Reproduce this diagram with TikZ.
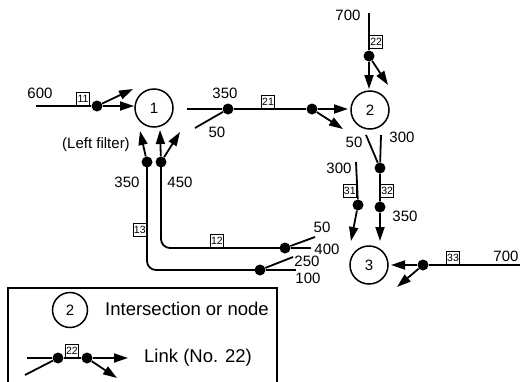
\documentclass[tikz,border=0pt]{standalone}
\usepackage{fontspec}
\setmainfont{Liberation Sans}
\usetikzlibrary{arrows.meta}
\begin{document}
\begin{tikzpicture}[x=1pt,y=-1pt,
  ln/.style={line width=1.8pt},
  dot/.style={circle, fill=black, inner sep=0pt, minimum size=11pt},
  inter/.style={circle, draw, line width=1.5pt, minimum size=38pt, inner sep=0pt, font=\fontsize{15}{17}\selectfont},
  lbl/.style={font=\fontsize{15}{17}\selectfont, inner sep=0pt},
  big/.style={font=\fontsize{18.5}{21}\selectfont, inner sep=0pt},
  num/.style={draw, line width=1.4pt, fill=white, inner sep=0pt, minimum width=13pt, minimum height=13pt, font=\fontsize{10.5}{11}\selectfont},
  arr/.style={line width=1.8pt, -{Triangle[length=14pt,width=9pt]}}]
\useasboundingbox (0,0) rectangle (520,381);

% intersections
\node[inter] (n1) at (154,108) {1};
\node[inter] (n2) at (370,110) {2};
\node[inter] (n3) at (369,265) {3};

% link 11
\coordinate (s11) at (36,106);
\node[dot] (d11) at (97,106) {};
\coordinate (t11a) at (134,106);
\coordinate (t11b) at (133,89);
\draw[ln] (s11) -- (d11);
\draw[arr] (d11) -- (t11a);
\draw[arr] (d11) -- (t11b);
\node[num, anchor=south] (b11) at (83,106) {11};
\node[lbl] (l600) at (40,93) {600};
\node[lbl] (lf) at (96,145) {(Left filter)};

% link 21
\coordinate (s21) at (187,109);
\coordinate (s21b) at (195,128);
\node[dot] (d21a) at (228,109) {};
\node[dot] (d21b) at (312,109) {};
\coordinate (t21a) at (348,109);
\coordinate (t21b) at (343,129);
\draw[ln] (s21) -- (d21a) -- (d21b);
\draw[ln] (s21b) -- (d21a);
\draw[arr] (d21b) -- (t21a);
\draw[arr] (d21b) -- (t21b);
\node[num, anchor=south] (b21) at (268,109) {21};
\node[lbl] (l350a) at (225,93) {350};
\node[lbl] (l50a) at (217,132) {50};

% link 22
\coordinate (s22) at (369,13);
\node[dot] (d22) at (369,56) {};
\coordinate (t22a) at (369,89);
\coordinate (t22b) at (388,85);
\draw[ln] (s22) -- (d22);
\draw[arr] (d22) -- (t22a);
\draw[arr] (d22) -- (t22b);
\node[num, anchor=west] (b22) at (369,42) {22};
\node[lbl] (l700a) at (348,15) {700};

% link 32
\coordinate (s32a) at (366,135);
\coordinate (s32b) at (381,135);
\node[dot] (d32a) at (380,168) {};
\node[dot] (d32b) at (380,207) {};
\coordinate (t32) at (380,241);
\draw[ln] (s32a) -- (d32a);
\draw[ln] (s32b) -- (d32a) -- (d32b);
\draw[arr] (d32b) -- (t32);
\node[num, anchor=west] (b32) at (380,191) {32};
\node[lbl] (l50b) at (354,142) {50};
\node[lbl] (l300a) at (402,137) {300};
\node[lbl] (l350b) at (405,216) {350};

% link 31
\coordinate (s31) at (356,162);
\node[dot] (d31) at (358,205) {};
\coordinate (t31) at (351,241);
\draw[ln] (s31) -- (d31);
\draw[arr] (d31) -- (t31);
\node[num, anchor=east] (b31) at (357,191) {31};
\node[lbl] (l300b) at (339,168) {300};

% link 33
\node[dot] (d33) at (423,265) {};
\coordinate (e33) at (520,265);
\coordinate (t33a) at (391,265);
\coordinate (t33b) at (397,287);
\draw[ln] (d33) -- (e33);
\draw[arr] (d33) -- (t33a);
\draw[arr] (d33) -- (t33b);
\node[num, anchor=south] (b33) at (453,265) {33};
\node[lbl] (l700b) at (506,256) {700};

% links 12 and 13
\node[dot] (d13) at (147,162) {};
\node[dot] (d12) at (161,162) {};
\node[dot] (d12r) at (285,248) {};
\node[dot] (d13r) at (260,270) {};
\coordinate (e12) at (311,248);
\coordinate (e12b) at (315,237);
\coordinate (e13) at (296,270);
\coordinate (e13b) at (293,257);
\draw[ln, rounded corners=9pt] (d12.center) |- (d12r.center);
\draw[ln, rounded corners=9pt] (d13.center) |- (d13r.center);
\draw[ln] (d12r) -- (e12);
\draw[ln] (e12b) -- (d12r);
\draw[ln] (d13r) -- (e13);
\draw[ln] (e13b) -- (d13r);
\coordinate (t13) at (140,131);
\coordinate (t12a) at (160,130);
\coordinate (t12b) at (180,132);
\draw[arr] (d13) -- (t13);
\draw[arr] (d12) -- (t12a);
\draw[arr] (d12) -- (t12b);
\node[num, anchor=east] (b13) at (147,230) {13};
\node[num, anchor=south] (b12) at (217,248) {12};
\node[lbl] (l350c) at (127,182) {350};
\node[lbl] (l450) at (180,182) {450};
\node[lbl] (l50c) at (322,227) {50};
\node[lbl] (l400) at (327,249) {400};
\node[lbl] (l250) at (307,261) {250};
\node[lbl] (l100) at (308,278) {100};

% legend
\coordinate (lg1) at (8,384);
\coordinate (lg2) at (8,288);
\coordinate (lg3) at (277,288);
\coordinate (lg4) at (277,384);
\draw[line width=1.8pt] (lg1) -- (lg2) -- (lg3) -- (lg4);
\node[inter, minimum size=35pt] (lgn) at (70,310) {2};
\node[big, anchor=west] (lgt1) at (105,309) {Intersection or node};
\coordinate (ls1) at (27,358);
\coordinate (ls2) at (25,375);
\node[dot] (ld1) at (58,358) {};
\node[dot] (ld2) at (87,358) {};
\coordinate (lt1) at (128,358);
\coordinate (lt2) at (117,378);
\draw[ln] (ls1) -- (ld1) -- (ld2);
\draw[ln] (ls2) -- (ld1);
\draw[arr] (ld2) -- (lt1);
\draw[arr] (ld2) -- (lt2);
\node[num, anchor=south] (lb22) at (72,358) {22};
\node[big, anchor=west] (lgt2) at (144,358) {Link (No. 22)};
\end{tikzpicture}
\end{document}
